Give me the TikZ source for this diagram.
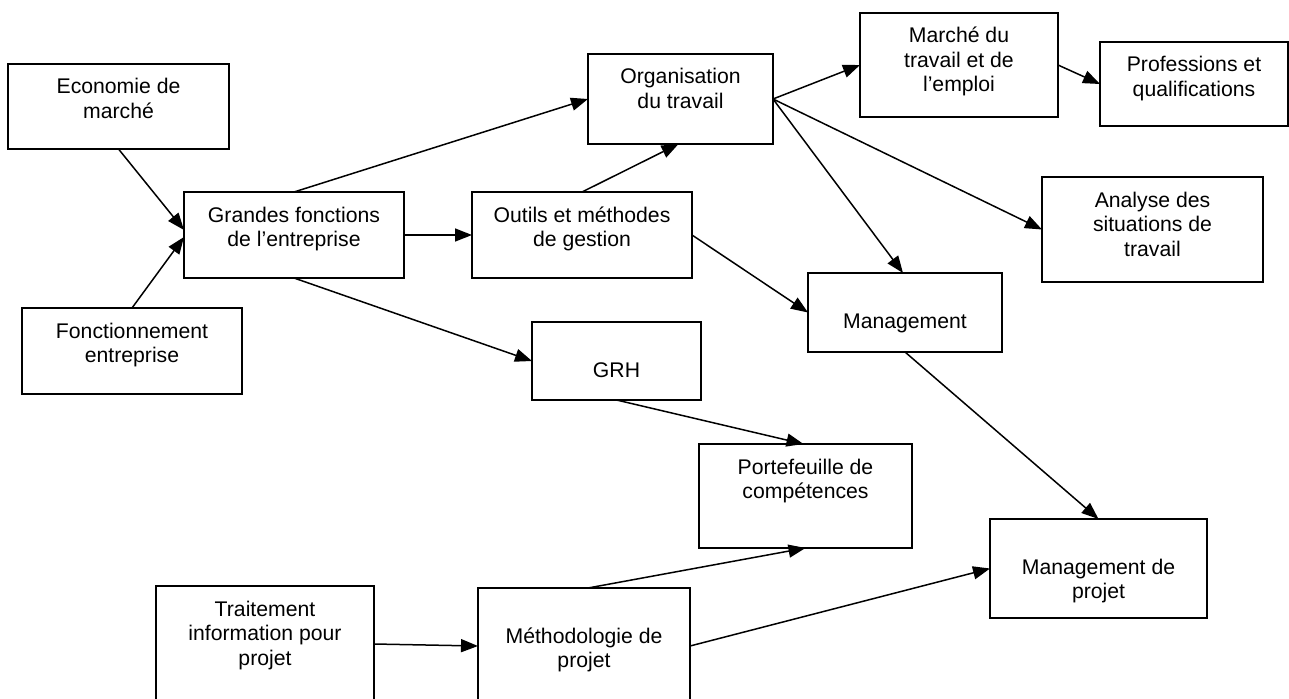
\documentclass[tikz,border=0pt]{standalone}
\usepackage{fontspec}
\setmainfont{Liberation Sans}
\usetikzlibrary{arrows.meta}
\newcommand{\boxfont}{\fontsize{21.2pt}{24.5pt}\selectfont}
% #1 width, #2 height, #3 first baseline below top, #4 text
\newcommand{\bxt}[4]{\parbox[t][#2pt][t]{#1pt}{\centering\rule{0pt}{#3pt}#4\par}}
\begin{document}
\begin{tikzpicture}[x=1pt,y=-1pt,
  box/.style={draw, line width=1.8pt, inner sep=0pt, outer sep=0pt, anchor=north west, font=\boxfont},
  arr/.style={-{Triangle[length=17pt,width=13pt]}, line width=1.5pt}]
\useasboundingbox (0,0) rectangle (1289,698);
\clip (0,0) rectangle (1289,698);
\node[box] (eco) at (8,64) {\bxt{221}{85}{30}{Economie de\\marché}};
\node[box] (grandes) at (184,192) {\bxt{220}{86}{30}{Grandes fonctions\\de l’entreprise}};
\node[box] (fonct) at (22,308) {\bxt{220}{86}{30}{Fonctionnement\\entreprise}};
\node[box] (outils) at (472,192) {\bxt{220}{86}{30}{Outils et méthodes\\de gestion}};
\node[box] (orga) at (588,54) {\bxt{185}{90}{30}{Organisation\\du travail}};
\node[box] (marche) at (860,13) {\bxt{198}{104}{30}{Marché du\\travail et de\\l’emploi}};
\node[box] (prof) at (1100,42) {\bxt{188}{84}{30}{Professions et\\qualifications}};
\node[box] (analyse) at (1042,177) {\bxt{221}{105}{30}{Analyse des\\situations de\\travail}};
\node[box] (mgmt) at (808,273) {\bxt{194}{79}{55}{Management}};
\node[box] (grh) at (532,322) {\bxt{169}{78}{55}{GRH}};
\node[box] (portef) at (699,444) {\bxt{213}{104}{30}{Portefeuille de\\compétences}};
\node[box] (mp) at (990,519) {\bxt{217}{99}{55}{Management de\\projet}};
\node[box] (trait) at (156,586) {\bxt{218}{116}{30}{Traitement\\information pour\\projet}};
\node[box] (methodo) at (478,588) {\bxt{212}{116}{55}{Méthodologie de\\projet}};

\draw[arr] (eco.south) -- ([yshift=5pt]grandes.west);
\draw[arr] (fonct.north) -- ([yshift=-2pt]grandes.west);
\draw[arr] (grandes.north) -- (orga.west);
\draw[arr] (grandes.east) -- (outils.west);
\draw[arr] (grandes.south) -- (grh.west);
\draw[arr] (outils.north) -- ([xshift=-2pt]orga.south);
\draw[arr] (outils.east) -- (mgmt.west);
\draw[arr] (orga.east) -- (marche.west);
\draw[arr] (orga.east) -- (analyse.west);
\draw[arr] (orga.east) -- ([xshift=-2pt]mgmt.north);
\draw[arr] (marche.east) -- (prof.west);
\draw[arr] (grh.south) -- ([xshift=-2pt]portef.north);
\draw[arr] (mgmt.south) -- (mp.north);
\draw[arr] ([xshift=4pt]methodo.north) -- (portef.south);
\draw[arr] (methodo.east) -- (mp.west);
\draw[arr] (trait.east) -- (methodo.west);
\end{tikzpicture}
\end{document}
